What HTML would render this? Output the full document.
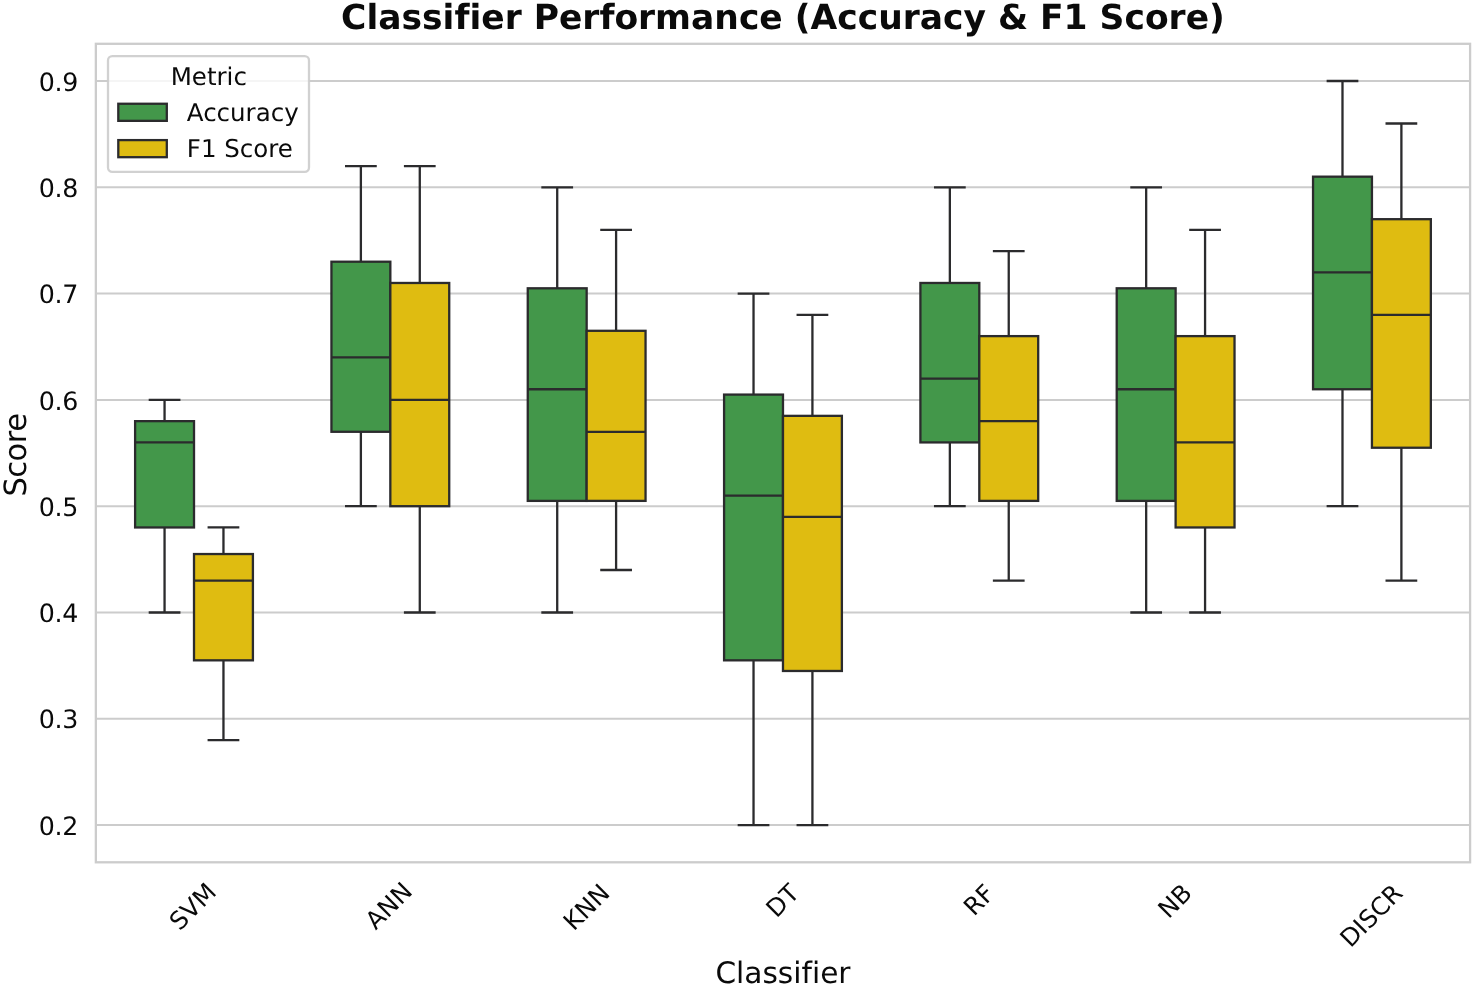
<!DOCTYPE html>
<html lang="en"><head><meta charset="utf-8"><title>Classifier Performance (Accuracy &amp; F1 Score)</title>
<style>html,body{margin:0;padding:0;background:#fff}body{width:1474px;height:986px;overflow:hidden}svg{will-change:transform;transform:translateZ(0)}svg text{text-rendering:geometricPrecision;font-kerning:normal;font-variant-ligatures:none;font-feature-settings:'liga' 0,'clig' 0}</style>
</head><body>
<svg width="1474" height="986" viewBox="0 0 1474 986" style="display:block">
<rect width="1474" height="986" fill="#fff"/>
<g stroke="#cccccc" stroke-width="2" fill="none">
<line x1="95.85" x2="1470.10" y1="825.10" y2="825.10"/>
<line x1="95.85" x2="1470.10" y1="718.80" y2="718.80"/>
<line x1="95.85" x2="1470.10" y1="612.50" y2="612.50"/>
<line x1="95.85" x2="1470.10" y1="506.20" y2="506.20"/>
<line x1="95.85" x2="1470.10" y1="399.90" y2="399.90"/>
<line x1="95.85" x2="1470.10" y1="293.60" y2="293.60"/>
<line x1="95.85" x2="1470.10" y1="187.30" y2="187.30"/>
<line x1="95.85" x2="1470.10" y1="81.00" y2="81.00"/>
</g>
<g stroke="#2b2b2d" stroke-width="2.3" stroke-linecap="square" stroke-linejoin="miter" fill="none">
<rect x="135.11" y="421.16" width="58.90" height="106.30" fill="#43974a"/><path stroke-linecap="butt" d="M164.56 527.46V612.50M164.56 421.16V399.90M135.11 442.42H194.01"/><path d="M149.84 612.50H179.29M149.84 399.90H179.29"/>
<rect x="194.01" y="554.04" width="58.90" height="106.30" fill="#dfbc11"/><path stroke-linecap="butt" d="M223.46 660.34V740.06M223.46 554.04V527.46M194.01 580.61H252.91"/><path d="M208.73 740.06H238.18M208.73 527.46H238.18"/>
<rect x="331.44" y="261.71" width="58.90" height="170.08" fill="#43974a"/><path stroke-linecap="butt" d="M360.88 431.79V506.20M360.88 261.71V166.04M331.44 357.38H390.33"/><path d="M346.16 506.20H375.61M346.16 166.04H375.61"/>
<rect x="390.33" y="282.97" width="58.90" height="223.23" fill="#dfbc11"/><path stroke-linecap="butt" d="M419.78 506.20V612.50M419.78 282.97V166.04M390.33 399.90H449.23"/><path d="M405.06 612.50H434.50M405.06 166.04H434.50"/>
<rect x="527.76" y="288.29" width="58.90" height="212.60" fill="#43974a"/><path stroke-linecap="butt" d="M557.21 500.88V612.50M557.21 288.29V187.30M527.76 389.27H586.65"/><path d="M542.48 612.50H571.93M542.48 187.30H571.93"/>
<rect x="586.65" y="330.80" width="58.90" height="170.08" fill="#dfbc11"/><path stroke-linecap="butt" d="M616.10 500.88V569.98M616.10 330.80V229.82M586.65 431.79H645.55"/><path d="M601.38 569.98H630.83M601.38 229.82H630.83"/>
<rect x="724.08" y="394.59" width="58.90" height="265.75" fill="#43974a"/><path stroke-linecap="butt" d="M753.53 660.34V825.10M753.53 394.59V293.60M724.08 495.57H782.98"/><path d="M738.80 825.10H768.25M738.80 293.60H768.25"/>
<rect x="782.98" y="415.85" width="58.90" height="255.12" fill="#dfbc11"/><path stroke-linecap="butt" d="M812.42 670.97V825.10M812.42 415.85V314.86M782.98 516.83H841.87"/><path d="M797.70 825.10H827.15M797.70 314.86H827.15"/>
<rect x="920.40" y="282.97" width="58.90" height="159.45" fill="#43974a"/><path stroke-linecap="butt" d="M949.85 442.42V506.20M949.85 282.97V187.30M920.40 378.64H979.30"/><path d="M935.12 506.20H964.57M935.12 187.30H964.57"/>
<rect x="979.30" y="336.12" width="58.90" height="164.76" fill="#dfbc11"/><path stroke-linecap="butt" d="M1008.74 500.88V580.61M1008.74 336.12V251.08M979.30 421.16H1038.19"/><path d="M994.02 580.61H1023.47M994.02 251.08H1023.47"/>
<rect x="1116.72" y="288.29" width="58.90" height="212.60" fill="#43974a"/><path stroke-linecap="butt" d="M1146.17 500.88V612.50M1146.17 288.29V187.30M1116.72 389.27H1175.62"/><path d="M1131.45 612.50H1160.89M1131.45 187.30H1160.89"/>
<rect x="1175.62" y="336.12" width="58.90" height="191.34" fill="#dfbc11"/><path stroke-linecap="butt" d="M1205.07 527.46V612.50M1205.07 336.12V229.82M1175.62 442.42H1234.51"/><path d="M1190.34 612.50H1219.79M1190.34 229.82H1219.79"/>
<rect x="1313.04" y="176.67" width="58.90" height="212.60" fill="#43974a"/><path stroke-linecap="butt" d="M1342.49 389.27V506.20M1342.49 176.67V81.00M1313.04 272.34H1371.94"/><path d="M1327.77 506.20H1357.22M1327.77 81.00H1357.22"/>
<rect x="1371.94" y="219.19" width="58.90" height="228.54" fill="#dfbc11"/><path stroke-linecap="butt" d="M1401.39 447.73V580.61M1401.39 219.19V123.52M1371.94 314.86H1430.84"/><path d="M1386.66 580.61H1416.11M1386.66 123.52H1416.11"/>
</g>
<rect x="95.85" y="43.80" width="1374.25" height="818.50" fill="none" stroke="#cccccc" stroke-width="2.3"/>
<rect x="108.0" y="56.1" width="201.0" height="115.80" rx="4.3" ry="4.3" fill="#fff" fill-opacity="0.8" stroke="#cccccc" stroke-opacity="0.9" stroke-width="2.3"/>
<g stroke="#2b2b2d" stroke-width="2.3" stroke-linejoin="miter">
<rect x="118.3" y="103.75" width="48.5" height="17.1" fill="#43974a"/>
<rect x="118.3" y="140.1" width="48.5" height="17.1" fill="#dfbc11"/>
</g>
<g font-family="'DejaVu Sans','Liberation Sans',sans-serif" fill="#0a0a0a">
<text x="208.8" y="84.8" font-size="24.5" text-anchor="middle">Metric</text>
<text x="186.8" y="121.2" font-size="24.5">Accuracy</text>
<text x="186.8" y="157.2" font-size="24.5">F1 Score</text>
<text x="782.97" y="28.7" font-size="34.5" font-weight="bold" text-anchor="middle">Classifier Performance (Accuracy &amp; F1 Score)</text>
<text x="78.0" y="834.70" font-size="25.3" letter-spacing="-0.3" text-anchor="end">0.2</text>
<text x="78.0" y="728.40" font-size="25.3" letter-spacing="-0.3" text-anchor="end">0.3</text>
<text x="78.0" y="622.10" font-size="25.3" letter-spacing="-0.3" text-anchor="end">0.4</text>
<text x="78.0" y="515.80" font-size="25.3" letter-spacing="-0.3" text-anchor="end">0.5</text>
<text x="78.0" y="409.50" font-size="25.3" letter-spacing="-0.3" text-anchor="end">0.6</text>
<text x="78.0" y="303.20" font-size="25.3" letter-spacing="-0.3" text-anchor="end">0.7</text>
<text x="78.0" y="196.90" font-size="25.3" letter-spacing="-0.3" text-anchor="end">0.8</text>
<text x="78.0" y="90.60" font-size="25.3" letter-spacing="-0.3" text-anchor="end">0.9</text>
<text transform="translate(193.96 907.64) rotate(-45)" font-size="24.6" text-anchor="middle" y="6.79">SVM</text>
<text transform="translate(389.98 906.88) rotate(-45)" font-size="24.6" text-anchor="middle" y="6.79">ANN</text>
<text transform="translate(587.65 908.33) rotate(-45)" font-size="24.6" text-anchor="middle" y="6.79">KNN</text>
<text transform="translate(783.77 901.93) rotate(-45)" font-size="24.6" text-anchor="middle" y="6.79">DT</text>
<text transform="translate(980.15 901.12) rotate(-45)" font-size="24.6" text-anchor="middle" y="6.79">RF</text>
<text transform="translate(1176.17 902.14) rotate(-45)" font-size="24.6" text-anchor="middle" y="6.79">NB</text>
<text transform="translate(1372.49 916.87) rotate(-45)" font-size="24.6" text-anchor="middle" y="6.79">DISCR</text>
<text x="782.97" y="982.5" font-size="29.6" text-anchor="middle">Classifier</text>
<text transform="translate(25.8 455.05) rotate(-90)" font-size="30.6" letter-spacing="-0.55" text-anchor="middle">Score</text>
</g>
</svg>
</body></html>
